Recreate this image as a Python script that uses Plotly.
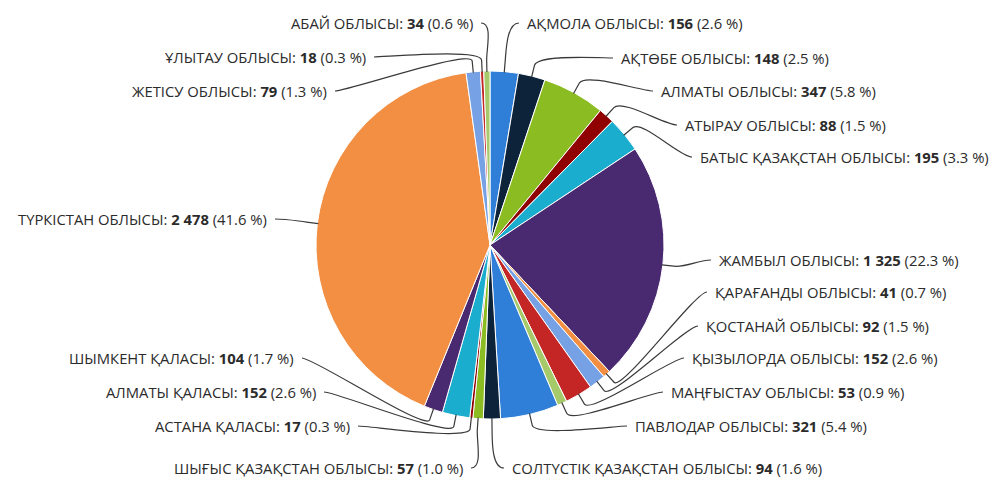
import math
import plotly.graph_objects as go

# ---------------- data ----------------
regions = [
    "АҚМОЛА ОБЛЫСЫ", "АҚТӨБЕ ОБЛЫСЫ", "АЛМАТЫ ОБЛЫСЫ", "АТЫРАУ ОБЛЫСЫ",
    "БАТЫС ҚАЗАҚСТАН ОБЛЫСЫ", "ЖАМБЫЛ ОБЛЫСЫ", "ҚАРАҒАНДЫ ОБЛЫСЫ",
    "ҚОСТАНАЙ ОБЛЫСЫ", "ҚЫЗЫЛОРДА ОБЛЫСЫ", "МАҢҒЫСТАУ ОБЛЫСЫ",
    "ПАВЛОДАР ОБЛЫСЫ", "СОЛТҮСТІК ҚАЗАҚСТАН ОБЛЫСЫ", "ШЫҒЫС ҚАЗАҚСТАН ОБЛЫСЫ",
    "АСТАНА ҚАЛАСЫ", "АЛМАТЫ ҚАЛАСЫ", "ШЫМКЕНТ ҚАЛАСЫ", "ТҮРКІСТАН ОБЛЫСЫ",
    "ЖЕТІСУ ОБЛЫСЫ", "ҰЛЫТАУ ОБЛЫСЫ", "АБАЙ ОБЛЫСЫ",
]
counts = [156, 148, 347, 88, 195, 1325, 41, 92, 152, 53,
          321, 94, 57, 17, 152, 104, 2478, 79, 18, 34]

palette = ["#2f7ed8", "#0d233a", "#8bbc21", "#910000", "#1aadce",
           "#492970", "#f28f43", "#77a1e5", "#c42525", "#a6c96a"]

# ---------------- layout (pixel positions of the labels) ----------------
W, H = 993, 477
CX, CY, R = 490, 245, 174
label_x = [527, 621, 661, 685, 700, 719, 715, 706, 692, 671, 635, 512,
           463, 350, 316, 294, 267, 327, 366, 473]
label_y = [23, 58, 91, 125, 157, 260, 292, 326, 358, 392, 426, 468,
           468, 426, 392, 358, 219, 91, 57, 23]
label_side = ["r"] * 12 + ["l"] * 8

colors = [palette[i % len(palette)] for i in range(len(counts))]
total = sum(counts)


def fmt(v):
    return f"{v:,}".replace(",", " ")


def px(x, y):
    return x / W, 1 - y / H


fig = go.Figure(go.Pie(
    labels=regions, values=counts, sort=False, direction="clockwise",
    rotation=0, marker=dict(colors=colors, line=dict(color="white", width=1)),
    textinfo="none", hoverinfo="label+value+percent", showlegend=False,
    domain=dict(x=[(CX - R) / W, (CX + R) / W],
                y=[1 - (CY + R) / H, 1 - (CY - R) / H]),
))

annotations = []
shapes = []
cum = 0
for i, (name, v) in enumerate(zip(regions, counts)):
    mid = (cum + v / 2) / total * 2 * math.pi
    cum += v
    sx, sy = math.sin(mid), -math.cos(mid)
    edge = (CX + (R - 1) * sx, CY + (R - 1) * sy)
    elbow = (CX + (R + 11) * sx, CY + (R + 11) * sy)
    lx, ly = label_x[i], label_y[i]
    if label_side[i] == "r":
        s = (lx - 8, ly)
        c1 = (lx - 20, ly)
        xanchor = "left"
    else:
        s = (lx + 8, ly)
        c1 = (lx + 20, ly)
        xanchor = "right"
    c2 = (2 * elbow[0] - edge[0], 2 * elbow[1] - edge[1])
    pts = [px(*p) for p in (s, c1, c2, elbow, edge)]
    path = ("M {:.5f},{:.5f} C {:.5f},{:.5f} {:.5f},{:.5f} {:.5f},{:.5f} "
            "L {:.5f},{:.5f}").format(*[c for p in pts for c in p])
    shapes.append(dict(type="path", xref="paper", yref="paper", path=path,
                       line=dict(color="#3a3a3a", width=1.2)))
    pct = v / total * 100
    text = f"{name}: <b>{fmt(v)}</b> ({pct:.1f} %)"
    ax, ay = px(lx, ly)
    annotations.append(dict(
        x=ax, y=ay, xref="paper", yref="paper", text=text, showarrow=False,
        xanchor=xanchor, yanchor="middle", borderpad=0, borderwidth=0,
        font=dict(family="Open Sans, sans-serif", size=14.8, color="#2b2b2b"),
    ))

fig.update_layout(
    width=W, height=H, margin=dict(l=0, r=0, t=0, b=0),
    paper_bgcolor="white", plot_bgcolor="white",
    annotations=annotations, shapes=shapes,
)

fig.write_html("out.html", config={"displayModeBar": False},
               post_script="document.body.style.margin='0px';")
